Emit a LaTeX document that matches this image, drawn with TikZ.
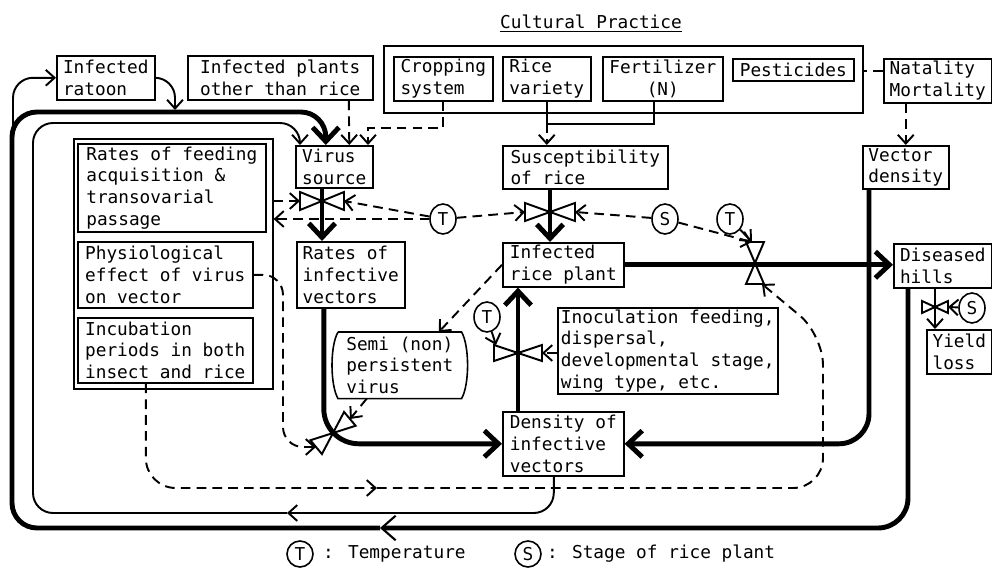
\documentclass[tikz,border=0pt]{standalone}
\usepackage{fontspec}
\setmainfont{DejaVu Sans Mono}
\usetikzlibrary{arrows.meta,calc,shapes.geometric}
\tikzset{pics/valve/.style args={#1/#2}{code={\draw[line width=1.1pt] (-#1,#2) -- (#1,-#2) -- (#1,#2) -- (-#1,-#2) -- cycle;}}}
\begin{document}
\begin{tikzpicture}[x=0.02cm,y=-0.02cm,
  every node/.style={font=\fontsize{10.1}{12.3}\selectfont},
  box/.style={draw,line width=0.9pt,anchor=north west,align=left,inner xsep=3pt,inner ysep=1pt},
  sz/.style 2 args={minimum width=#1*0.02cm,minimum height=#2*0.02cm},
  flow/.style={line width=2.8pt,-{Straight Barb[length=8pt,width=15pt]}},
  link/.style={line width=1.1pt,-{Straight Barb[length=5pt,width=9pt]}},
  info/.style={line width=1.1pt,dash pattern=on 5.5pt off 3.5pt,-{Straight Barb[length=5pt,width=9pt]}},
  sym/.style={draw,ellipse,line width=0.9pt,inner sep=0pt,minimum width=26*0.02cm,minimum height=30*0.02cm}]
\useasboundingbox (0,0) rectangle (992,568);

% boxes
\node (cptitle) at (591,24) {\underline{Cultural Practice}};
\node[box,sz={479}{67}] (cult) at (383,45) {};
\node[box,sz={99}{44}] (crop) at (393,56) {Cropping\\system};
\node[box,sz={88}{44}] (var) at (502,56) {Rice\\variety};
\node[box,sz={120}{44},align=center] (fert) at (602,56) {Fertilizer\\(N)};
\node[box,sz={121}{22}] (pest) at (732,58) {Pesticides};
\node[box,sz={108}{44}] (nat) at (883,58) {Natality\\Mortality};
\node[box,sz={98}{44}] (rat) at (56,55) {Infected\\ratoon};
\node[box,sz={185}{44}] (ipl) at (187,55) {Infected plants\\other than rice};
\node[box,sz={77}{42}] (vsrc) at (295,145) {Virus\\source};
\node[box,sz={165}{43}] (sus) at (502,145) {Susceptibility\\of rice};
\node[box,sz={86}{43}] (vden) at (862,145) {Vector\\density};
\node[box,sz={199}{250}] (grp) at (73,138) {};
\node[box,sz={188}{88}] (feed) at (77,143) {Rates of feeding\\acquisition \&\\transovarial\\passage};
\node[box,sz={175}{66}] (phys) at (77,241) {Physiological\\effect of virus\\on vector};
\node[box,sz={175}{65}] (incu) at (77,317) {Incubation\\periods in both\\insect and rice};
\node[box,sz={108}{66}] (rinf) at (296,241) {Rates of\\infective\\vectors};
\node[box,sz={121}{44}] (irp) at (502,242) {Infected\\rice plant};
\node[box,draw=none,sz={122}{65}] (semi) at (338,332) {Semi (non)\\persistent\\virus};
\node[box,sz={218}{86},inner xsep=1.8pt] (inoc) at (557,307) {Inoculation feeding,\\dispersal,\\developmental stage,\\wing type, etc.};
\node[box,sz={121}{64}] (dens) at (502,411) {Density of\\infective\\vectors};
\node[box,sz={98}{44}] (dis) at (893,243) {Diseased\\hills};
\node[box,sz={65}{44}] (yld) at (926,329) {Yield\\loss};
\draw[line width=0.9pt] (semi.north west) -- (semi.north east)
  .. controls ($(semi.north east)+(8,14)$) and ($(semi.south east)+(8,-14)$) .. (semi.south east)
  -- (semi.south west)
  .. controls ($(semi.south west)+(-8,-14)$) and ($(semi.north west)+(-8,14)$) .. (semi.north west);

% T and S
\node[sym] (tA) at (443,219) {T};
\node[sym] (sA) at (665,219) {S};
\node[sym] (tB) at (730,219) {T};
\node[sym] (tC) at (487,317) {T};
\node[sym] (sB) at (972,308) {S};
\node[sym,minimum height=26*0.02cm] (tkey) at (300,554) {T};
\node[anchor=west] (tkeytxt) at (317,554) {: Temperature};
\node[sym,minimum height=26*0.02cm] (skey) at (528,554) {S};
\node[anchor=west] (skeytxt) at (541,554) {: Stage of rice plant};

% valves
\coordinate (vA) at (322,201);
\coordinate (vB) at (550,212);
\coordinate (vC) at (755,263);
\coordinate (vD) at (518,353);
\coordinate (vE) at (333,433);
\coordinate (vF) at (935,307);
\pic at (vA) {valve=22/9};
\pic at (vB) {valve=25/9};
\pic[rotate=90] at (vC) {valve=21/9};
\pic at (vD) {valve=24/8};
\pic[rotate=40] at (vE) {valve=22/9};
\pic at (vF) {valve=13/6};
\coordinate (vAl) at ($(vA)+(-22,0)$);
\coordinate (vAr) at ($(vA)+(22,0)$);
\coordinate (vBl) at ($(vB)+(-25,0)$);
\coordinate (vBr) at ($(vB)+(25,0)$);
\coordinate (vCt) at ($(vC)+(-3,-21)$);
\coordinate (vCb) at ($(vC)+(7,21)$);
\coordinate (vDr) at ($(vD)+(24,0)$);
\coordinate (vDtl) at ($(vD)+(-22,-8)$);
\coordinate (vEl) at ($(vE)+(-17,14)$);
\coordinate (vEr) at ($(vE)+(17,-14)$);
\coordinate (vFr) at ($(vF)+(13,0)$);

% thick flows
\coordinate (backmid) at (380,528);
\draw[line width=2.8pt,-{Straight Barb[line width=1.2pt,length=8pt,width=14pt]},rounded corners=0.6cm] ([xshift=0.3cm]dis.south west) |- (backmid);
\draw[flow,rounded corners=0.5cm] (backmid) -| (12,112) -| ([xshift=-0.17cm]vsrc.north);
\draw[flow,rounded corners=0.6cm] ([xshift=0.14cm]vden.south west) |- (dens.east);
\draw[flow] (vA |- vsrc.south) -- (vA |- rinf.north);
\draw[flow] (vB |- sus.south) -- (vB |- irp.north);
\draw[flow] (vD |- dens.north) -- (vD |- irp.south);
\draw[flow] (irp.east) -- (irp.east -| dis.west);
\draw[flow,rounded corners=0.7cm] ([xshift=-0.54cm]rinf.south) |- (dens.west);

% thin flows
\coordinate (thinmid) at (287,513);
\draw[link,rounded corners=0.4cm] ([xshift=-0.19cm]dens.south) |- (thinmid);
\draw[link,rounded corners=0.4cm] (thinmid) -| (33,123) -| ([xshift=0.1cm]vsrc.north west);
\coordinate (ratfoot) at (13,137);
\coordinate (ratin) at (175,110);
\draw[link,rounded corners=0.4cm] (ratfoot) |- (rat.west);
\draw[link,rounded corners=0.4cm] (rat.east) -| (ratin);
\draw[link] (vF |- dis.south) -- (vF |- yld.north);
\coordinate (susin) at ([yshift=-0.44cm]var.south);
\coordinate (fertfoot) at ([xshift=-0.18cm]fert.south);
\draw[line width=1.1pt] (var.south) |- (fertfoot |- susin) -- (fertfoot);
\draw[link] (tB) -- (vCt);
\draw[link] (tC) -- (vDtl);
\draw[link] (sB) -- (vFr);

% information links
\coordinate (natl) at ([yshift=0.2cm]nat.west);
\draw[info,-] (natl) -- (natl -| cult.east);
\draw[info] (vden.north |- nat.south) -- (vden.north);
\draw[info] ([xshift=1.37cm]ipl.south) -- ([xshift=0.3cm]vsrc.north);
\coordinate (cropturn) at (368,128);
\draw[info] (crop.south) |- (cropturn) -- (cropturn |- vsrc.north);
\draw[info] (susin) -- (susin |- sus.north);
\draw[info] (vAl -| grp.east) -- (vAl);
\draw[info] (tA) -- (vAr);
\draw[info] (tA.west) -- (tA.west -| grp.east);
\draw[info] (tA) -- (vBl);
\draw[info] (sA) -- (vBr);
\draw[info] (sA) -- (vCt);
\draw[info] (vDr -| inoc.west) -- (vDr);
\draw[info] (irp.west) -- ([xshift=0.78cm]semi.north);
\draw[info] ([xshift=-0.66cm]semi.south) -- (vEr);
\coordinate (physturn) at (283,447);
\draw[info,rounded corners=0.4cm] (phys.east) -| (physturn) -- (vEl);
\coordinate (dashmid) at (377,488);
\coordinate (dashturn) at (823,335);
\draw[info,rounded corners=0.6cm] ([xshift=-0.39cm]incu.south) |- (dashmid);
\draw[info,rounded corners=0.6cm] (dashmid) -| (dashturn) -- (vCb);

\end{tikzpicture}
\end{document}
